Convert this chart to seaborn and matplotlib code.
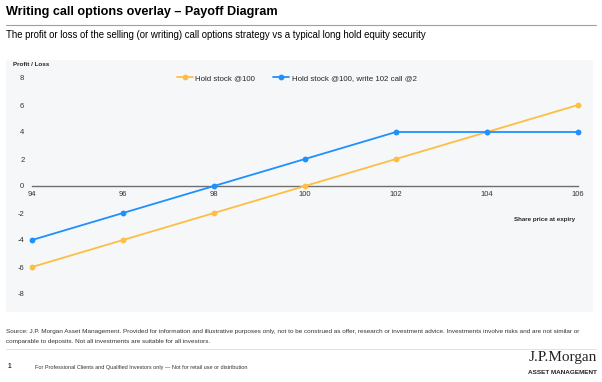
import matplotlib
matplotlib.use("Agg")
import matplotlib.pyplot as plt
import seaborn as sns
import pandas as pd
from matplotlib.lines import Line2D

share_price = [94, 96, 98, 100, 102, 104, 106]
hold_stock = [-6, -4, -2, 0, 2, 4, 6]
covered_call = [-4, -2, 0, 2, 4, 4, 4]
series_names = ["Hold stock @100", "Hold stock @100, write 102 call @2"]
x_ticks = [94, 96, 98, 100, 102, 104, 106]
y_ticks = [-8, -6, -4, -2, 0, 2, 4, 6, 8]

colors = ["#FDBE45", "#1E90FF"]

df = pd.DataFrame({
    "price": share_price * 2,
    "value": hold_stock + covered_call,
    "series": [series_names[0]] * len(share_price) + [series_names[1]] * len(share_price),
})

sns.set_theme(style="white")
plt.rcParams["font.family"] = ["Liberation Sans", "DejaVu Sans"]

W, H = 602, 382
fig = plt.figure(figsize=(W / 100, H / 100), dpi=100)
fig.patch.set_facecolor("white")

def fx(px):
    return px / W

def fy(py):
    return 1 - py / H

# background panel (own axes, behind chart)
bg = fig.add_axes([fx(6), fy(312), fx(593) - fx(6), fy(60) - fy(312)], zorder=-5)
bg.set_facecolor("#F6F7F9")
bg.set_xticks([])
bg.set_yticks([])
for s in bg.spines.values():
    s.set_visible(False)

# title & subtitle
fig.text(fx(6), fy(12), "Writing call options overlay \u2013 Payoff Diagram",
         fontsize=9.1, fontweight="bold", color="black", va="center", ha="left")
fig.add_artist(Line2D([fx(6), fx(596)], [fy(25), fy(25)], transform=fig.transFigure,
                      color="#A0A0A0", lw=0.8))
fig.text(fx(6), fy(35), "The profit or loss of the selling (or writing) call options strategy vs a typical long hold equity security",
         fontsize=6.95, color="black", va="center", ha="left")

ax = fig.add_axes([fx(32), fy(294), fx(578) - fx(32), fy(78) - fy(294)], zorder=1)
ax.set_facecolor("none")

sns.lineplot(data=df, x="price", y="value", hue="series", palette=colors,
             marker="o", markersize=4.2, markeredgewidth=0, linewidth=1.3,
             ax=ax, legend=True)
for ln in ax.lines:
    ln.set_clip_on(False)

ax.set_xlim(94, 106)
ax.set_ylim(-8, 8)
ax.set_xticks(x_ticks)
ax.set_xticklabels([str(t) for t in x_ticks])
ax.set_yticks(y_ticks)
ax.set_yticklabels([str(t) for t in y_ticks])

for s in ["top", "right", "left"]:
    ax.spines[s].set_visible(False)
ax.spines["bottom"].set_position(("data", 0))
ax.spines["bottom"].set_color("#6E6E6E")
ax.spines["bottom"].set_linewidth(1.0)
ax.spines["bottom"].set_zorder(1)
ax.tick_params(axis="x", length=0, pad=3.5, labelsize=5.5, colors="#333333")
ax.tick_params(axis="y", length=0, pad=5.5, labelsize=5.5, colors="#333333")
ax.set_xlabel("")
ax.set_ylabel("")

leg = ax.legend(loc="center", bbox_to_anchor=(0.485, 1.0), ncol=2, frameon=False,
                fontsize=5.7, handlelength=2.0, columnspacing=2.3, handletextpad=0.3)

fig.text(fx(13), fy(64), "Profit / Loss", fontsize=4.5, fontweight="bold", va="center", ha="left")
fig.text(fx(575), fy(219), "Share price at expiry", fontsize=4.5, fontweight="bold", va="center", ha="right")

# footer
fig.text(fx(6), fy(331), "Source: J.P. Morgan Asset Management. Provided for information and illustrative purposes only, not to be construed as offer, research or investment advice. Investments involve risks and are not similar or",
         fontsize=4.62, color="#333333", va="center", ha="left")
fig.text(fx(6), fy(341), "comparable to deposits. Not all investments are suitable for all investors.",
         fontsize=4.62, color="#333333", va="center", ha="left")
fig.add_artist(Line2D([fx(6), fx(596)], [fy(349), fy(349)], transform=fig.transFigure,
                      color="#DDDDDD", lw=0.6))
fig.text(fx(8), fy(367), "1", fontsize=4.7, fontweight="bold", color="#333333", va="center", ha="left")
fig.text(fx(35), fy(367), "For Professional Clients and Qualified Investors only \u2014 Not for retail use or distribution",
         fontsize=4.0, color="#333333", va="center", ha="left")
fig.text(fx(597), fy(357), "J.P.Morgan", fontsize=11, family=["Liberation Serif", "DejaVu Serif"],
         color="#222222", va="center", ha="right")
fig.text(fx(597), fy(372), "ASSET MANAGEMENT", fontsize=4.6, fontweight="bold",
         color="#222222", va="center", ha="right")

fig.savefig("out.png", dpi=100, facecolor="white")
